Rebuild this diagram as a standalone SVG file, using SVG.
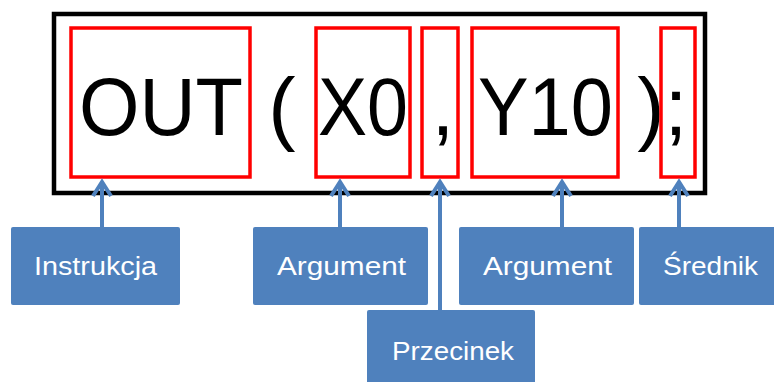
<svg xmlns="http://www.w3.org/2000/svg" width="774" height="382" viewBox="0 0 774 382">
  <style>
    .code { font-family: "Liberation Sans", Arial, sans-serif; font-size: 82px; fill: #000; }
    .frame { fill: none; stroke: #000; stroke-width: 4.5; }
    .part { fill: none; stroke: #ff0000; stroke-width: 3.5; }
    .box { fill: #4f81bd; }
    .label { font-family: "Liberation Sans", Arial, sans-serif; font-size: 25px; fill: #fff; text-anchor: middle; }
    .link { fill: none; stroke: #4f81bd; stroke-width: 4; stroke-linejoin: miter; }
  </style>
  <rect width="774" height="382" fill="#fff"/>

  <!-- statement line -->
  <g id="statement">
    <rect class="frame" x="54" y="14" width="651" height="179"/>
    <text class="code" x="79" y="135" textLength="164" lengthAdjust="spacingAndGlyphs">OUT</text>
    <text class="code" x="282" y="135" text-anchor="middle">(</text>
    <text class="code" x="318" y="135" textLength="90" lengthAdjust="spacingAndGlyphs">X0</text>
    <text class="code" x="443" y="135" text-anchor="middle">,</text>
    <text class="code" x="478" y="135" textLength="135" lengthAdjust="spacingAndGlyphs">Y10</text>
    <text class="code" x="651" y="135" text-anchor="middle">)</text>
    <text class="code" x="676" y="135" text-anchor="middle">;</text>
  </g>

  <!-- highlighted parts -->
  <g id="parts">
    <rect class="part" x="71" y="28" width="179" height="149"/>
    <rect class="part" x="316" y="28" width="94" height="149"/>
    <rect class="part" x="422" y="28" width="36" height="149"/>
    <rect class="part" x="472" y="28" width="146" height="149"/>
    <rect class="part" x="661" y="28" width="34" height="149"/>
  </g>

  <!-- connectors -->
  <g id="connectors">
    <path class="link" d="M102 227 V182 M93 196 L102 182 L111 196"/>
    <path class="link" d="M340 227 V182 M331 196 L340 182 L349 196"/>
    <path class="link" d="M440 310 V182 M431 196 L440 182 L449 196"/>
    <path class="link" d="M562 227 V182 M553 196 L562 182 L571 196"/>
    <path class="link" d="M679 227 V182 M670 196 L679 182 L688 196"/>
  </g>

  <g id="instrukcja">
    <rect class="box" x="11" y="227" width="169" height="78" rx="2"/>
    <text class="label" x="95.5" y="275" textLength="123" lengthAdjust="spacingAndGlyphs">Instrukcja</text>
  </g>
  <g id="argument-1">
    <rect class="box" x="253" y="227" width="175" height="78" rx="2"/>
    <text class="label" x="341.5" y="275" textLength="129" lengthAdjust="spacingAndGlyphs">Argument</text>
  </g>
  <g id="przecinek">
    <rect class="box" x="367" y="310" width="168" height="90" rx="2"/>
    <text class="label" x="453" y="360" textLength="122" lengthAdjust="spacingAndGlyphs">Przecinek</text>
  </g>
  <g id="argument-2">
    <rect class="box" x="459" y="227" width="175" height="78" rx="2"/>
    <text class="label" x="547.5" y="275" textLength="129" lengthAdjust="spacingAndGlyphs">Argument</text>
  </g>
  <g id="srednik">
    <rect class="box" x="639" y="227" width="150" height="78" rx="2"/>
    <text class="label" x="710.5" y="275" textLength="95" lengthAdjust="spacingAndGlyphs">Średnik</text>
  </g>
</svg>
